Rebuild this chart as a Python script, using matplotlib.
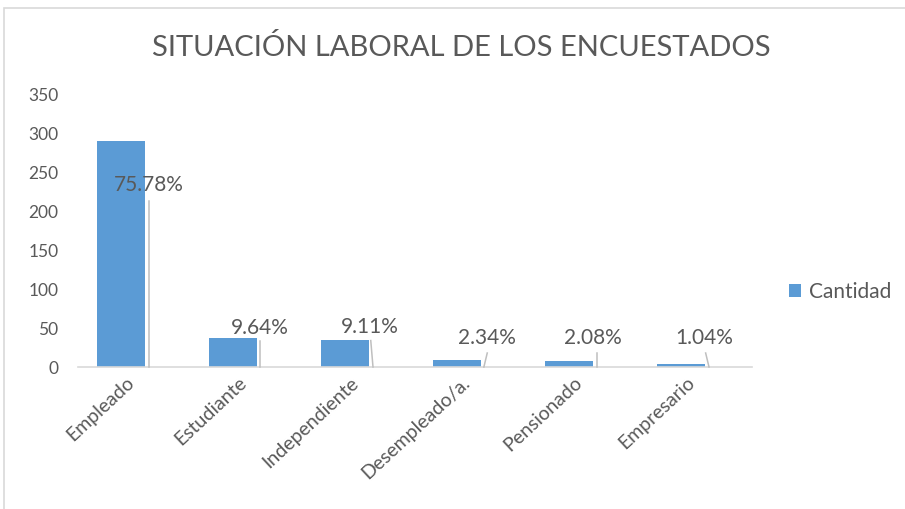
import matplotlib
matplotlib.use("Agg")
import matplotlib.pyplot as plt
from matplotlib.patches import Rectangle
from matplotlib.transforms import ScaledTranslation

categories = ["Empleado", "Estudiante", "Independiente", "Desempleado/a.", "Pensionado", "Empresario"]
cantidad = [291, 37, 35, 9, 8, 4]
porcentajes = ["75.78%", "9.64%", "9.11%", "2.34%", "2.08%", "1.04%"]
yticks = [0, 50, 100, 150, 200, 250, 300, 350]

# layout of the data-label callouts (label centre x offset, label centre y, leader top y, leader x offsets)
lab_dx = [0.25, 0.24, 0.22, 0.27, 0.21, 0.21]
lab_y = [234, 50, 51.5, 37, 37, 37]
lead_top = [213, 34, 34, 18, 18, 18]
lead_dx_top = [0.25, 0.24, 0.23, 0.27, 0.25, 0.22]
lead_dx_bot = [0.25, 0.24, 0.25, 0.24, 0.25, 0.25]

plt.rcParams['font.family'] = ['Lato', 'DejaVu Sans']
TXT = "#595959"
BAR = "#5B9BD5"

W, H = 905, 509
fig = plt.figure(figsize=(W / 100, H / 100), dpi=100)
fig.patch.set_facecolor("white")

# chart area border
fig.patches.append(Rectangle((4 / W, -0.1), 1.2, 1 - 8 / H + 0.1, transform=fig.transFigure,
                             fill=False, edgecolor="#d9d9d9", linewidth=1.2))

ax = fig.add_axes([78 / W, 142 / H, 674 / W, 272 / H])
x = list(range(len(categories)))
bw = 48 / 112
ax.bar(x, cantidad, width=bw, color=BAR, label="Cantidad", zorder=2)

ax.set_xlim((78 - 121) / 112, (752 - 121) / 112)
ax.set_ylim(0, 350)
ax.set_yticks(yticks)
ax.set_yticklabels([str(v) for v in yticks], fontsize=12.5, color=TXT)
ax.tick_params(axis='y', length=0, pad=14)
ax.tick_params(axis='x', length=0, pad=5)
ax.set_xticks(x)
ax.set_xticklabels(categories, rotation=43, ha='right', va='top', rotation_mode='anchor',
                   fontsize=14, color=TXT)
off = ScaledTranslation(5 / 100, 0, fig.dpi_scale_trans)
for t in ax.get_xticklabels():
    t.set_transform(t.get_transform() + off)
for s in ["top", "right", "left"]:
    ax.spines[s].set_visible(False)
ax.spines["bottom"].set_color("#d9d9d9")
ax.spines["bottom"].set_linewidth(1.2)

for i, lab in enumerate(porcentajes):
    ax.text(i + lab_dx[i], lab_y[i], lab, ha='center', va='center', fontsize=15, color=TXT, zorder=4)
    ax.plot([i + lead_dx_top[i], i + lead_dx_bot[i]], [lead_top[i], 0], color="#bfbfbf",
            linewidth=1.1, zorder=3, clip_on=False)

fig.text(461 / W, 1 - 47 / H, "SITUACIÓN LABORAL DE LOS ENCUESTADOS", ha='center', va='center',
         fontsize=21, color=TXT)

leg = fig.legend(handles=[ax.patches[0]], labels=["Cantidad"], loc='center left',
                 bbox_to_anchor=(770 / W, 1 - 292 / H), frameon=False, fontsize=15,
                 handlelength=0.6, handleheight=0.6, handletextpad=0.35, labelcolor=TXT)

fig.savefig("out.png", dpi=100, facecolor="white")
